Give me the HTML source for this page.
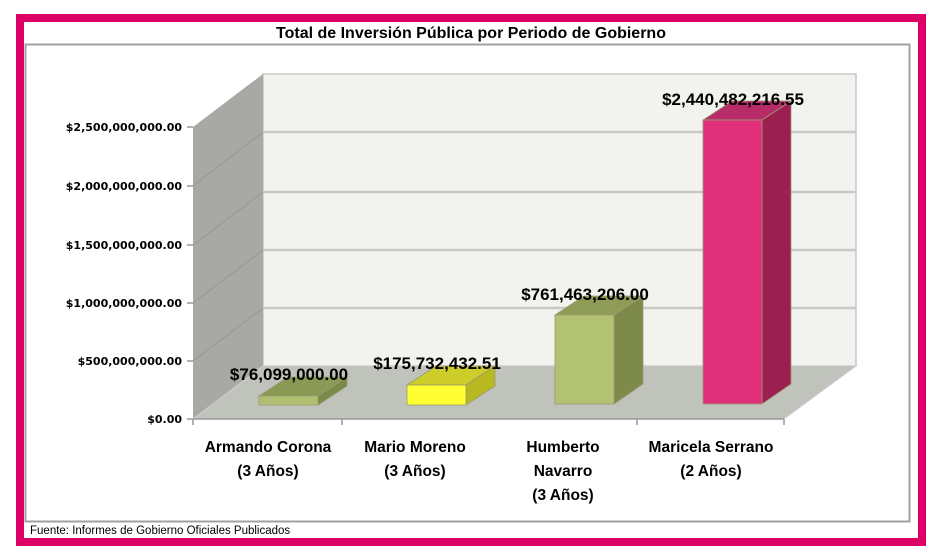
<!DOCTYPE html>
<html><head><meta charset="utf-8"><style>
body{margin:0;background:#fff;}
svg{display:block;}
</style></head><body>
<svg width="944" height="560" xmlns="http://www.w3.org/2000/svg">
<rect x="0" y="0" width="944" height="560" fill="#fff"/>
<rect x="20" y="18" width="902" height="524" fill="none" stroke="#DC0066" stroke-width="8"/>
<rect x="25.5" y="44.5" width="884" height="477" fill="none" stroke="#a0a0a0" stroke-width="2"/>
<text x="471" y="38" text-anchor="middle" font-family="Liberation Sans, sans-serif" font-weight="bold" font-size="16">Total de Inversión Pública por Periodo de Gobierno</text>
<!-- back wall -->
<polygon points="263,74 856,74 856,366 263,366" fill="#f2f3ee" stroke="#c8c8c8" stroke-width="1.5"/>
<g stroke="#c8c8c8" stroke-width="2.5">
<line x1="263" y1="132" x2="856" y2="132"/>
<line x1="263" y1="192" x2="856" y2="192"/>
<line x1="263" y1="250" x2="856" y2="250"/>
<line x1="263" y1="308" x2="856" y2="308"/>
</g>
<!-- left wall -->
<polygon points="193,127 263,74 263,366 193,419" fill="#a8a8a4"/>
<g stroke="#969692" stroke-width="1">
<line x1="193" y1="186" x2="263" y2="132"/>
<line x1="193" y1="245" x2="263" y2="192"/>
<line x1="193" y1="303" x2="263" y2="250"/>
<line x1="193" y1="361" x2="263" y2="308"/>
</g>
<!-- floor -->
<polygon points="193,419 263,366 856,366 784,419" fill="#c0c2bc" stroke="#d0d0d0" stroke-width="1"/>
<!-- axis ticks -->
<g stroke="#999" stroke-width="1.5">
<line x1="193" y1="419" x2="784" y2="419"/>
<line x1="193" y1="419" x2="193" y2="425"/>
<line x1="342" y1="419" x2="342" y2="425"/>
<line x1="637" y1="419" x2="637" y2="425"/>
<line x1="784" y1="419" x2="784" y2="425"/>
<line x1="187" y1="127" x2="193" y2="127"/>
<line x1="187" y1="186" x2="193" y2="186"/>
<line x1="187" y1="245" x2="193" y2="245"/>
<line x1="187" y1="303" x2="193" y2="303"/>
<line x1="187" y1="361" x2="193" y2="361"/>
<line x1="187" y1="419" x2="193" y2="419"/>
</g>
<g font-family="DejaVu Sans, Liberation Sans, sans-serif" font-weight="bold" font-size="11" text-anchor="end">
<text x="182" y="131">$2,500,000,000.00</text>
<text x="182" y="190">$2,000,000,000.00</text>
<text x="182" y="249">$1,500,000,000.00</text>
<text x="182" y="307">$1,000,000,000.00</text>
<text x="182" y="365">$500,000,000.00</text>
<text x="182" y="423">$0.00</text>
</g>
<!-- bars -->
<g stroke="#9a9a70" stroke-width="0.8">
<polygon points="259,396 288,377 347,377 318,396" fill="#8a9a55"/>
<polygon points="318,396 347,377 347,386 318,405" fill="#7a8a48"/>
<rect x="259" y="396" width="59" height="9" fill="#b0c070"/>

<polygon points="407,385 436,366 495,366 466,385" fill="#cccc2a"/>
<polygon points="466,385 495,366 495,386 466,405" fill="#b8b820"/>
<rect x="407" y="385" width="59" height="20" fill="#ffff33"/>

<polygon points="555,315 584,296 643,296 614,315" fill="#8e9c58"/>
<polygon points="614,315 643,296 643,384 614,404" fill="#7d8a4a"/>
<rect x="555" y="315" width="59" height="89" fill="#b2c172"/>

<polygon points="703,120 732,101 791,101 762,120" fill="#b82a68"/>
<polygon points="762,120 791,101 791,384 762,404" fill="#9c1f52"/>
<rect x="703" y="120" width="59" height="284" fill="#df3079"/>
</g>
<g font-family="Liberation Sans, sans-serif" font-weight="bold" font-size="17" text-anchor="middle">
<text x="289" y="380">$76,099,000.00</text>
<text x="437" y="369">$175,732,432.51</text>
<text x="585" y="300">$761,463,206.00</text>
<text x="733" y="105">$2,440,482,216.55</text>
</g>
<g font-family="Liberation Sans, sans-serif" font-weight="bold" font-size="15.5" text-anchor="middle">
<text x="268" y="452">Armando Corona</text>
<text x="268" y="476">(3 Años)</text>
<text x="415" y="452">Mario Moreno</text>
<text x="415" y="476">(3 Años)</text>
<text x="563" y="452">Humberto</text>
<text x="563" y="476">Navarro</text>
<text x="563" y="500">(3 Años)</text>
<text x="711" y="452">Maricela Serrano</text>
<text x="711" y="476">(2 Años)</text>
</g>
<text x="30" y="534" font-family="Liberation Sans, sans-serif" font-size="11.5">Fuente: Informes de Gobierno Oficiales Publicados</text>
</svg>
</body></html>
